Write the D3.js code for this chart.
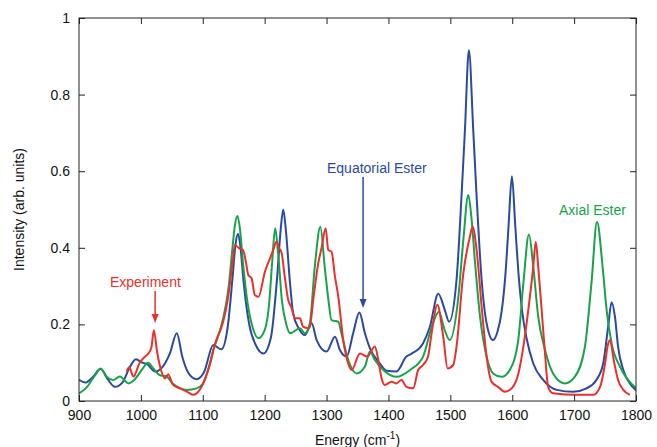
<!DOCTYPE html>
<html>
<head>
<meta charset="utf-8">
<script src="https://cdn.jsdelivr.net/npm/d3@7"></script>
<style>
  body { margin: 0; background: #fff; }
  text { font-family: "Liberation Sans", Arial, Helvetica, sans-serif; }
</style>
</head>
<body>
<div id="chart"></div>
<script>
const width = 657;
const height = 447;
const margin = { top: 18, right: 21, bottom: 46, left: 79 };

// Experiment (red)
const expEnergy = [977, 981, 988, 998, 1006, 1012, 1017, 1021, 1026, 1031, 1039, 1044, 1052, 1063, 1075, 1085, 1098, 1112, 1120, 1125, 1130.5, 1141, 1148, 1152, 1158, 1165, 1170, 1173.5, 1179, 1184, 1190, 1200.5, 1208, 1214, 1219, 1223, 1227.5, 1232, 1238, 1243, 1249, 1257, 1262, 1270, 1273, 1278.5, 1286.6, 1292, 1298.5, 1302.8, 1308, 1313.6, 1319, 1327, 1335, 1340.5, 1354, 1366, 1378, 1383.6, 1389, 1394, 1405, 1413, 1421, 1429, 1440, 1448, 1456, 1464, 1470, 1479, 1488.5, 1495.6, 1504.7, 1510, 1521, 1531.6, 1536, 1542.5, 1550.6, 1558.6, 1566.7, 1577, 1588, 1599, 1610, 1618, 1626, 1634, 1638, 1642, 1647.5, 1653, 1658, 1666, 1704, 1731, 1742, 1750, 1754, 1758, 1764, 1771, 1779.5, 1790];
const expIntensity = [0.077, 0.088, 0.064, 0.100, 0.115, 0.124, 0.140, 0.185, 0.130, 0.090, 0.059, 0.070, 0.042, 0.033, 0.024, 0.016, 0.037, 0.098, 0.150, 0.172, 0.194, 0.272, 0.360, 0.407, 0.400, 0.394, 0.360, 0.329, 0.320, 0.277, 0.272, 0.338, 0.370, 0.395, 0.416, 0.400, 0.386, 0.330, 0.264, 0.245, 0.216, 0.216, 0.194, 0.190, 0.194, 0.264, 0.360, 0.400, 0.451, 0.394, 0.390, 0.325, 0.272, 0.159, 0.098, 0.081, 0.124, 0.116, 0.142, 0.107, 0.059, 0.042, 0.050, 0.046, 0.055, 0.037, 0.033, 0.081, 0.094, 0.116, 0.180, 0.251, 0.168, 0.085, 0.094, 0.142, 0.333, 0.429, 0.455, 0.394, 0.246, 0.116, 0.050, 0.037, 0.024, 0.033, 0.072, 0.142, 0.238, 0.351, 0.416, 0.351, 0.238, 0.124, 0.037, 0.020, 0.016, 0.016, 0.037, 0.098, 0.142, 0.159, 0.107, 0.055, 0.029, 0.016];

// Axial ester (green)
const axEnergy = [900, 912, 925, 935, 945, 955, 966, 980, 990, 1000, 1012, 1020, 1030, 1042, 1050, 1060, 1074, 1090, 1100, 1110, 1117, 1125, 1133, 1142, 1148, 1152, 1156, 1160, 1165, 1172, 1180, 1190, 1200, 1207, 1212, 1217, 1222, 1228, 1235, 1241, 1257, 1265, 1273, 1281, 1290, 1297, 1303, 1308, 1319, 1324, 1335, 1348.6, 1362, 1370, 1378, 1391.6, 1413, 1435, 1456, 1470, 1481.6, 1490, 1499, 1513, 1521, 1529, 1534, 1540, 1548, 1558.6, 1569, 1583, 1596, 1609.7, 1618, 1627, 1634, 1642, 1653, 1666, 1685, 1701, 1717.5, 1728, 1737, 1746, 1752.5, 1760.5, 1774, 1787, 1800];
const axIntensity = [0.020, 0.035, 0.065, 0.084, 0.063, 0.055, 0.064, 0.046, 0.056, 0.078, 0.100, 0.085, 0.068, 0.064, 0.048, 0.036, 0.029, 0.033, 0.045, 0.090, 0.133, 0.170, 0.216, 0.300, 0.400, 0.460, 0.483, 0.450, 0.360, 0.260, 0.195, 0.164, 0.185, 0.250, 0.360, 0.451, 0.380, 0.260, 0.200, 0.177, 0.190, 0.177, 0.203, 0.351, 0.455, 0.351, 0.264, 0.211, 0.207, 0.177, 0.107, 0.072, 0.090, 0.129, 0.107, 0.081, 0.063, 0.081, 0.116, 0.194, 0.233, 0.190, 0.159, 0.272, 0.420, 0.538, 0.481, 0.360, 0.220, 0.116, 0.072, 0.063, 0.081, 0.159, 0.307, 0.435, 0.351, 0.220, 0.133, 0.072, 0.046, 0.063, 0.142, 0.307, 0.468, 0.351, 0.238, 0.151, 0.090, 0.055, 0.034];

// Equatorial ester (blue)
const eqEnergy = [900, 910, 922, 935, 946, 958, 970, 982, 992, 1002, 1010, 1023, 1036, 1047, 1058, 1067, 1078, 1090, 1102, 1117, 1130, 1140, 1148, 1153, 1157, 1161, 1166, 1175, 1186, 1198, 1210, 1220, 1226, 1230, 1234, 1241, 1246, 1255, 1265, 1276, 1284, 1300, 1313.6, 1321.6, 1332.5, 1343, 1353, 1362, 1370, 1386, 1397, 1413, 1429, 1437, 1456, 1467, 1480.5, 1491, 1498, 1510, 1518, 1523.6, 1530, 1537, 1542.5, 1550.6, 1558.6, 1569, 1576, 1583, 1589, 1594, 1599.5, 1605, 1610, 1616, 1623, 1634, 1650, 1672, 1698.6, 1720, 1736, 1747, 1755, 1760.5, 1766, 1771, 1779.5, 1790, 1800];
const eqIntensity = [0.055, 0.048, 0.062, 0.084, 0.058, 0.037, 0.048, 0.088, 0.109, 0.100, 0.096, 0.077, 0.091, 0.125, 0.177, 0.115, 0.070, 0.057, 0.075, 0.146, 0.135, 0.190, 0.320, 0.410, 0.437, 0.400, 0.310, 0.200, 0.145, 0.124, 0.165, 0.320, 0.450, 0.500, 0.450, 0.307, 0.229, 0.190, 0.172, 0.203, 0.159, 0.129, 0.168, 0.133, 0.116, 0.177, 0.231, 0.177, 0.138, 0.098, 0.079, 0.077, 0.116, 0.123, 0.151, 0.194, 0.280, 0.238, 0.207, 0.316, 0.533, 0.708, 0.916, 0.708, 0.533, 0.316, 0.203, 0.159, 0.180, 0.235, 0.330, 0.455, 0.587, 0.455, 0.335, 0.235, 0.165, 0.098, 0.055, 0.029, 0.024, 0.033, 0.055, 0.098, 0.194, 0.258, 0.220, 0.142, 0.081, 0.046, 0.028];

const xTicks = [900, 1000, 1100, 1200, 1300, 1400, 1500, 1600, 1700, 1800];
const yTicks = [0, 0.2, 0.4, 0.6, 0.8, 1];

const series = [
    { name: "Equatorial Ester", color: "#2b4a9e", energy: eqEnergy, intensity: eqIntensity },
    { name: "Axial Ester", color: "#17a34a", energy: axEnergy, intensity: axIntensity },
    { name: "Experiment", color: "#ec2f2b", energy: expEnergy, intensity: expIntensity }
];

const x = d3.scaleLinear().domain([900, 1800]).range([margin.left, width - margin.right]);
const y = d3.scaleLinear().domain([0, 1]).range([height - margin.bottom, margin.top]);

const svg = d3.select("#chart").append("svg")
    .attr("width", width)
    .attr("height", height);

svg.append("defs").append("clipPath")
    .attr("id", "plotClip")
    .append("rect")
    .attr("x", margin.left)
    .attr("y", margin.top)
    .attr("width", width - margin.left - margin.right)
    .attr("height", height - margin.top - margin.bottom);

// Curves
const line = d3.line()
    .x(d => x(d[0]))
    .y(d => y(d[1]))
    .curve(d3.curveMonotoneX);

const curves = svg.append("g").attr("clip-path", "url(#plotClip)");
series.forEach(s => {
    curves.append("path")
        .datum(d3.zip(s.energy, s.intensity))
        .attr("fill", "none")
        .attr("stroke", s.color)
        .attr("stroke-width", 2)
        .attr("stroke-linejoin", "round")
        .attr("d", line);
});

// Axes: ticks point inward on all four sides
const tickLen = 6;
const bottomAxis = d3.axisBottom(x).tickValues(xTicks).tickSize(-tickLen).tickPadding(9).tickFormat(d3.format("d"));
const topAxis = d3.axisTop(x).tickValues(xTicks).tickSize(-tickLen).tickFormat("");
const leftAxis = d3.axisLeft(y).tickValues(yTicks).tickSize(-tickLen).tickPadding(9).tickFormat(d => d3.format("")(d));
const rightAxis = d3.axisRight(y).tickValues(yTicks).tickSize(-tickLen).tickFormat("");

function styleAxis(g) {
    g.select(".domain").remove();
    g.selectAll(".tick line").attr("stroke", "#222").attr("stroke-width", 1);
    g.selectAll(".tick text").attr("fill", "#111").attr("font-size", "14px").attr("font-family", "Liberation Sans, Arial, sans-serif");
}

svg.append("g").attr("transform", `translate(0,${height - margin.bottom})`).call(bottomAxis).call(styleAxis);
svg.append("g").attr("transform", `translate(0,${margin.top})`).call(topAxis).call(styleAxis);
svg.append("g").attr("transform", `translate(${margin.left},0)`).call(leftAxis).call(styleAxis);
svg.append("g").attr("transform", `translate(${width - margin.right},0)`).call(rightAxis).call(styleAxis);

svg.append("rect")
    .attr("x", margin.left)
    .attr("y", margin.top)
    .attr("width", width - margin.left - margin.right)
    .attr("height", height - margin.top - margin.bottom)
    .attr("fill", "none")
    .attr("stroke", "#222")
    .attr("stroke-width", 1);

// Axis titles
const xTitle = svg.append("text")
    .attr("x", (margin.left + width - margin.right) / 2)
    .attr("y", 445)
    .attr("text-anchor", "middle")
    .attr("font-size", "14px")
    .attr("fill", "#111");
xTitle.append("tspan").text("Energy (cm");
xTitle.append("tspan").attr("dy", -6).attr("font-size", "10px").text("-1");
xTitle.append("tspan").attr("dy", 6).text(")");

svg.append("text")
    .attr("transform", `translate(24,${(margin.top + height - margin.bottom) / 2}) rotate(-90)`)
    .attr("text-anchor", "middle")
    .attr("font-size", "14px")
    .attr("fill", "#111")
    .text("Intensity (arb. units)");

// Annotations with arrows
function arrow(color, xVal, y0, y1) {
    svg.append("line")
        .attr("x1", x(xVal)).attr("x2", x(xVal))
        .attr("y1", y0).attr("y2", y1 - 7)
        .attr("stroke", color)
        .attr("stroke-width", 1.5);
    svg.append("path")
        .attr("d", `M${x(xVal) - 3.5},${y1 - 9} L${x(xVal) + 3.5},${y1 - 9} L${x(xVal)},${y1} Z`)
        .attr("fill", color);
}

svg.append("text").attr("x", 110).attr("y", 287).attr("font-size", "14px").attr("fill", "#ec2f2b").text("Experiment");
arrow("#ec2f2b", 1023, 291, 323);

svg.append("text").attr("x", 327).attr("y", 173).attr("font-size", "14px").attr("fill", "#2b4a9e").text("Equatorial Ester");
arrow("#2b4a9e", 1359, 177, 308);

svg.append("text").attr("x", 559).attr("y", 215).attr("font-size", "14px").attr("fill", "#17a34a").text("Axial Ester");
</script>
</body>
</html>
